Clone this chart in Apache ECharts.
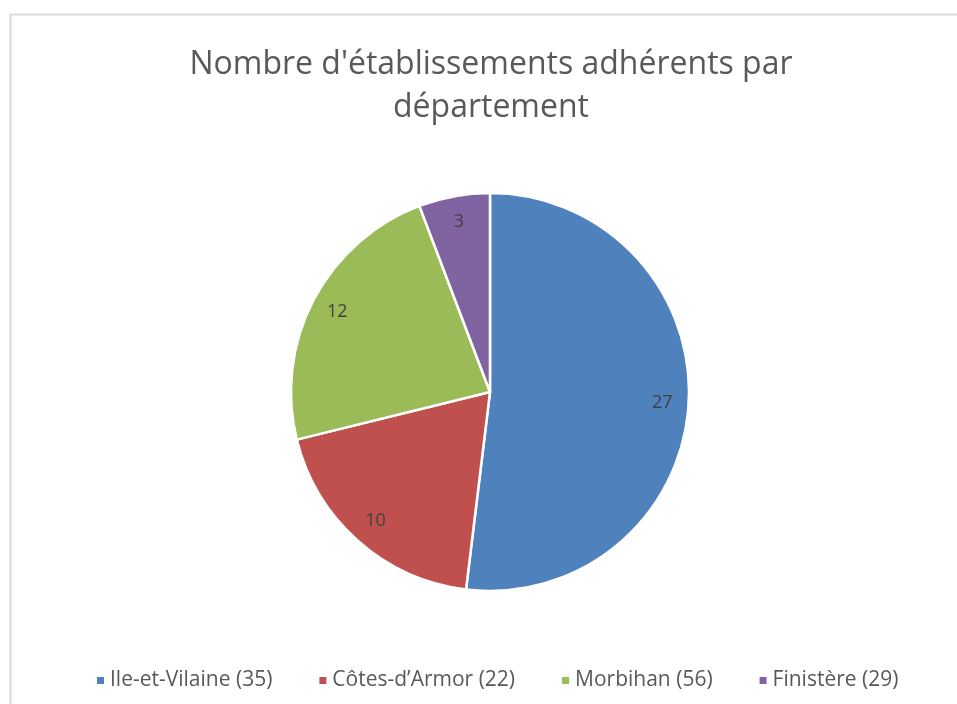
<!DOCTYPE html>
<html>
<head>
<meta charset="utf-8">
<script src="https://cdn.jsdelivr.net/npm/echarts@6/dist/echarts.min.js"></script>
<style>
  html, body { margin: 0; padding: 0; background: #fff; }
  #main { width: 957px; height: 704px; }
</style>
</head>
<body>
<div id="main"></div>
<script>
// données
var departements = ['Ile-et-Vilaine (35)', 'Côtes-d\u2019Armor (22)', 'Morbihan (56)', 'Finistère (29)'];
var etablissements = [27, 10, 12, 3];
var couleurs = ['#4f81bd', '#c0504d', '#9bbb59', '#8064a2'];

var pieData = departements.map(function (nom, i) {
  return { name: nom, value: etablissements[i] };
});

var chart = echarts.init(document.getElementById('main'));
var option = {
  color: couleurs,
  animation: false,
  textStyle: { fontFamily: 'Open Sans' },
  title: {
    text: "Nombre d'établissements adhérents par\ndépartement",
    left: 486,
    textAlign: 'center',
    top: 38,
    textStyle: {
      fontFamily: 'Open Sans',
      fontSize: 32,
      fontWeight: 'normal',
      color: '#595959',
      lineHeight: 43
    }
  },
  legend: {
    bottom: 8,
    left: 90,
    icon: 'rect',
    itemWidth: 9,
    itemHeight: 9,
    itemGap: 45,
    textStyle: { fontSize: 21, color: '#595959', fontFamily: 'Open Sans' }
  },
  graphic: [{
    type: 'rect',
    shape: { x: 10.5, y: 14.5, width: 1200, height: 1200 },
    style: { fill: 'none', stroke: '#d9d9d9', lineWidth: 2 },
    silent: true
  }],
  series: [
    {
      // secteurs
      type: 'pie',
      center: [490, 392],
      radius: [0, 199],
      startAngle: 90,
      clockwise: true,
      label: { show: false },
      labelLine: { show: false },
      itemStyle: { borderColor: '#fff', borderWidth: 2.5 },
      data: pieData
    },
    {
      // étiquettes (anneau invisible pour les placer vers le bord)
      type: 'pie',
      center: [490, 392],
      radius: [140, 199],
      startAngle: 90,
      clockwise: true,
      silent: true,
      itemStyle: { color: 'rgba(0,0,0,0)' },
      label: {
        show: true,
        position: 'inside',
        formatter: '{c}',
        fontSize: 18,
        color: '#404040',
        fontFamily: 'Open Sans'
      },
      labelLine: { show: false },
      data: pieData
    }
  ]
};
chart.setOption(option);
</script>
</body>
</html>
